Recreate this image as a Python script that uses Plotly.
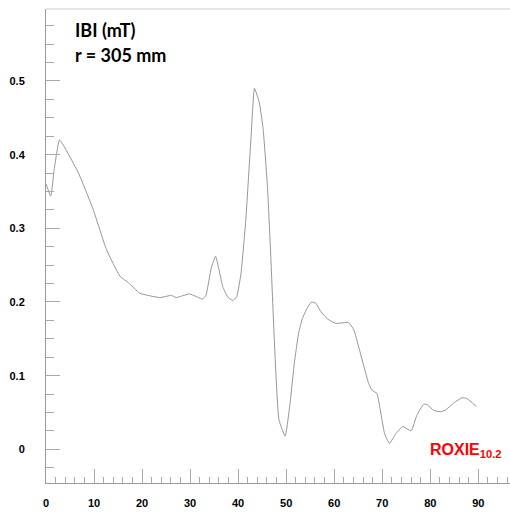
import plotly.graph_objects as go

angle = [0, 1.0, 1.7, 2.8, 3.6, 6.7, 9.8, 12.6, 15.4, 17.2, 19.5, 23.7, 26.1, 27.1, 29.9,
         32.6, 33.3, 34.4, 35.3, 36.8, 37.8, 38.9, 39.7, 40.6, 41.6, 42.7, 43.4, 44.4,
         45.2, 46.1, 46.8, 47.5, 48.5, 49.8, 50.8, 51.7, 52.6, 53.4, 54.4, 55.3, 56.2,
         57.2, 58.6, 60.3, 63.0, 64.1, 65.1, 66.2, 67.2, 67.9, 68.9, 69.6, 70.5, 71.5,
         72.8, 74.3, 76.0, 77.2, 78.6, 79.3, 80.7, 82.1, 83.1, 84.9, 86.6, 87.6, 89.6]
ibi = [0.360, 0.344, 0.380, 0.420, 0.413, 0.376, 0.326, 0.271, 0.235, 0.226, 0.212, 0.206,
       0.209, 0.206, 0.211, 0.204, 0.209, 0.246, 0.262, 0.221, 0.207, 0.202, 0.207, 0.239,
       0.312, 0.425, 0.490, 0.471, 0.435, 0.357, 0.262, 0.153, 0.040, 0.018, 0.062, 0.117,
       0.158, 0.178, 0.192, 0.200, 0.198, 0.187, 0.177, 0.171, 0.172, 0.162, 0.139, 0.112,
       0.089, 0.080, 0.076, 0.053, 0.021, 0.008, 0.021, 0.031, 0.025, 0.046, 0.061, 0.061,
       0.053, 0.051, 0.053, 0.063, 0.070, 0.069, 0.058]

x_ticks = [0, 10, 20, 30, 40, 50, 60, 70, 80, 90]
y_ticks = [0, 0.1, 0.2, 0.3, 0.4, 0.5]
y_labels = ["0", "0.1", "0.2", "0.3", "0.4", "0.5"]

fig = go.Figure()
fig.add_trace(go.Scatter(x=angle, y=ibi, mode="lines",
                         line=dict(color="#8a8a8a", width=0.9, shape="spline", smoothing=0.4),
                         hoverinfo="skip"))

tickfont = dict(family="Liberation Sans, Arial, sans-serif", size=11, color="black")
fig.update_layout(
    width=510, height=514,
    margin=dict(l=46, r=0, t=9, b=31),
    paper_bgcolor="white", plot_bgcolor="white",
    showlegend=False,
    xaxis=dict(range=[0, 96.6], tickvals=x_ticks, ticktext=["<b>%d</b>" % v for v in x_ticks],
               ticks="inside", ticklen=14, tickcolor="#aaaaaa", tickwidth=1,
               showline=True, linecolor="#999999", linewidth=1, mirror=False,
               showgrid=False, zeroline=False, tickfont=tickfont,
               ticklabelstandoff=10,
               minor=dict(dtick=2, ticks="inside", ticklen=6, tickcolor="#aaaaaa", showgrid=False)),
    yaxis=dict(range=[-0.0457, 0.5977], tickvals=y_ticks, ticktext=["<b>%s</b>" % s for s in y_labels],
               ticks="inside", ticklen=14, tickcolor="#aaaaaa", tickwidth=1,
               showline=True, linecolor="#999999", linewidth=1,
               showgrid=False, zeroline=False, tickfont=tickfont,
               ticklabelstandoff=18,
               minor=dict(dtick=0.025, tick0=0, ticks="inside", ticklen=8, tickcolor="#aaaaaa", showgrid=False)),
    shapes=[dict(type="line", xref="paper", yref="paper", x0=0, x1=1, y0=1, y1=1,
                 line=dict(color="#cccccc", width=1))],
    annotations=[
        dict(text="<b>IBI (mT)</b>", xref="paper", yref="paper", x=(73-46)/464, y=1-(30-9)/474,
             xanchor="left", yanchor="middle", showarrow=False,
             font=dict(family="Lato, sans-serif", size=18, color="black")),
        dict(text="<b>r = 305 mm</b>", xref="paper", yref="paper", x=(73-46)/464, y=1-(55-9)/474,
             xanchor="left", yanchor="middle", showarrow=False,
             font=dict(family="Lato, sans-serif", size=18, color="black")),
        dict(text="<b>ROXIE<sub>10.2</sub></b>", xref="paper", yref="paper", x=(428-46)/464, y=1-(450-9)/474,
             xanchor="left", yanchor="middle", showarrow=False,
             font=dict(family="Liberation Sans, Arial, sans-serif", size=16, color="#ff0000")),
    ],
)

fig.write_html("out.html")
